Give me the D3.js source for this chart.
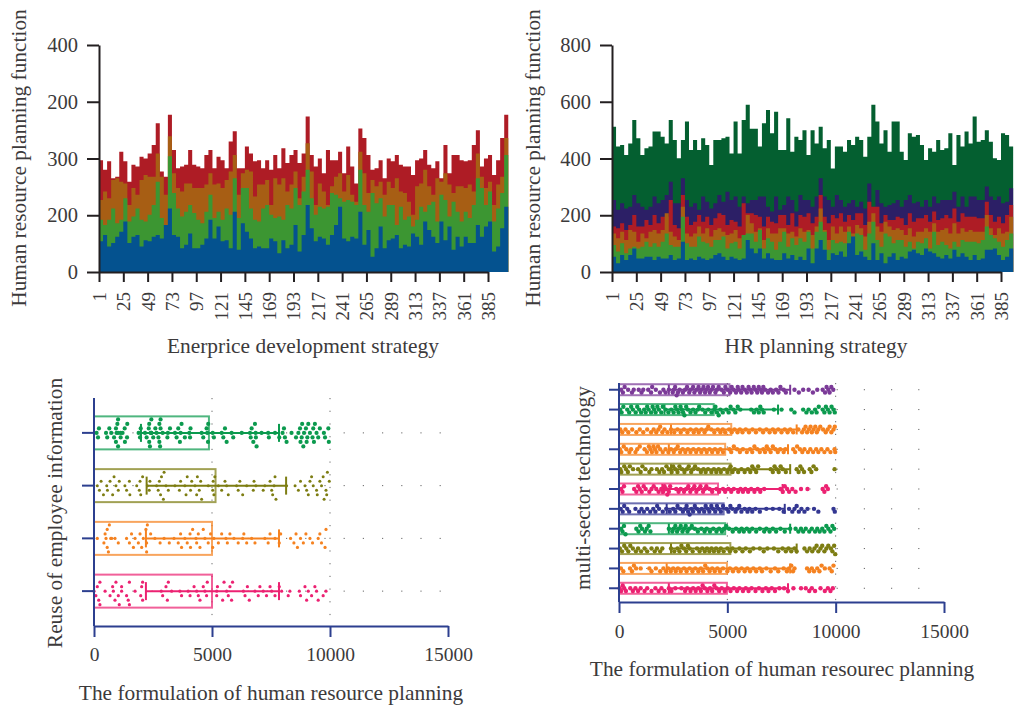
<!DOCTYPE html>
<html>
<head>
<meta charset="utf-8">
<script src="https://cdn.jsdelivr.net/npm/d3@7"></script>
<style>
    html, body { margin: 0; padding: 0; background: #fff; }
    text { font-family: "Liberation Serif", serif; fill: #3c3a3b; }
</style>
</head>
<body>
<div id="my_dataviz"></div>
<script>
// Top row: stacked levels, one value per 4 indices
const blueTopA = [54,65,45,51,62,71,89,51,62,65,45,56,54,62,65,59,83,112,65,62,42,48,68,42,42,48,59,92,59,80,54,56,42,106,
    39,86,71,59,42,45,42,42,59,54,33,56,42,48,83,36,65,118,77,54,62,59,48,65,83,115,59,54,62,59,106,48,74,27,42,
    80,42,56,59,65,42,48,45,68,62,48,89,74,62,51,89,56,80,39,62,45,62,51,51,83,62,80,89,36,45,77,115,77];
const greenTopA = [92,83,92,112,86,92,130,89,98,112,92,89,101,118,159,95,83,204,139,112,98,106,118,104,92,86,106,136,95,106,92,112,101,165,
    95,148,148,112,92,89,112,118,101,95,98,92,118,112,148,118,142,180,130,101,115,112,115,139,136,130,124,127,124,118,180,118,106,139,121,
    130,98,118,118,83,115,92,98,80,92,115,106,118,124,89,136,127,98,124,106,89,106,95,118,165,148,118,142,89,112,139,206,174];
const orangeTopA = [127,142,130,162,165,159,156,118,148,136,162,171,168,168,209,168,136,239,174,148,142,156,156,148,148,148,154,174,154,156,148,162,177,206,
    136,174,180,177,133,154,154,162,118,165,154,165,142,154,177,130,168,227,177,118,156,142,118,151,168,174,142,171,136,124,212,174,139,162,151,
    159,136,159,148,165,142,139,124,101,151,156,180,151,136,165,159,174,154,139,151,151,148,154,142,209,168,148,159,118,154,168,236,195];
const redTopA = [197,180,195,165,168,212,195,159,189,186,203,200,209,224,262,177,168,277,215,183,186,189,215,189,186,183,206,215,183,203,197,183,230,248,
    183,183,221,209,195,197,183,197,180,206,183,218,192,206,215,192,209,274,206,186,200,174,215,197,197,212,174,221,186,156,253,236,206,180,183,
    197,165,200,195,206,189,186,186,171,197,200,215,189,183,195,165,224,174,206,206,197,195,197,224,250,186,200,206,171,197,236,277,250];

const blueTopB = [54,31,60,42,60,83,48,48,54,54,42,54,48,48,60,42,48,107,42,48,42,54,48,42,48,60,66,54,42,54,48,42,48,113,
    83,66,83,48,66,48,42,42,66,48,60,42,54,42,83,31,83,113,78,42,66,60,72,54,101,125,60,72,54,42,101,42,66,31,54,
    66,42,54,48,72,78,66,60,83,72,66,54,48,60,48,78,54,66,54,42,60,42,48,78,78,83,60,42,54,83,78];
const greenTopB = [95,72,101,66,83,89,83,89,107,89,101,89,107,136,95,89,89,195,101,89,89,125,107,101,89,113,113,125,83,101,107,83,130,136,
    136,107,148,83,119,107,78,107,142,89,119,95,119,107,142,83,142,177,142,78,113,101,107,101,142,113,136,130,78,136,177,113,89,136,125,
    101,113,113,89,107,83,107,101,119,83,142,95,107,95,83,107,89,113,107,107,107,101,113,160,130,119,107,89,113,136,113];
const brownTopB = [136,119,142,113,148,142,107,136,119,142,148,136,148,207,142,125,113,230,136,125,136,160,136,154,125,148,154,142,130,136,148,119,130,201,
    172,142,154,113,154,136,136,154,154,136,142,125,154,142,148,130,160,224,148,113,160,136,160,142,160,136,166,154,125,177,207,160,142,177,160,
    148,154,148,130,154,125,142,142,154,142,172,142,148,154,136,172,136,154,142,148,142,142,142,201,154,130,154,136,142,195,154];
const redTopB = [160,154,172,148,166,201,160,160,183,166,201,172,195,195,254,166,154,271,195,166,177,201,177,195,166,189,207,201,166,183,177,160,242,207,
    207,201,195,160,195,177,172,201,201,166,207,160,201,195,207,172,195,271,195,172,201,189,207,177,201,183,207,207,166,248,230,230,172,201,183,
    183,195,189,166,207,177,189,189,201,177,213,183,189,201,189,224,177,207,195,195,195,189,189,248,201,177,195,172,201,236,189];
const navyTopB = [254,219,242,224,230,271,242,230,219,230,266,242,254,271,318,242,242,330,254,230,242,219,266,248,224,242,271,248,283,254,266,230,266,242,
    254,254,266,266,230,213,266,219,236,266,254,213,271,254,254,230,266,330,266,254,230,271,254,230,242,254,230,248,224,312,230,289,242,230,236,
    242,254,230,254,271,242,248,230,254,230,266,242,254,254,254,283,230,266,230,266,266,254,254,301,266,254,266,242,248,295,254];
const darkTopB = [512,442,448,412,453,536,471,412,436,442,495,495,477,453,536,465,401,465,530,430,465,430,471,448,377,465,465,471,477,418,530,418,536,589,
    505,505,442,524,571,489,565,430,430,542,424,477,465,500,412,500,453,512,436,465,365,442,442,424,465,448,477,465,406,477,589,530,453,500,424,
    530,530,424,395,489,477,483,448,395,436,424,465,430,436,489,377,483,442,495,453,548,459,465,500,459,401,395,489,483,442,442];

const xTickLabels = ["1","25","49","73","97","121","145","169","193","217","241","265","289","313","337","361","385"];
const yTickLabelsA = ["0","200","300","200","400"];
const yTickLabelsB = ["0","200","400","600","800"];

// Bottom left chart, groups from top to bottom
const reuseMeans = [4870, 5150, 5000, 5000];
const reuseLow = [1990, 2230, 2200, 2200];
const reuseHigh = [7840, 8140, 7840, 7840];
const reuseGreen = [110,170,210,510,560,650,730,850,930,930,960,990,1020,1020,1020,1130,1130,1210,1300,1310,1400,1410,1890,1950,1980,2160,2230,2320,2340,2340,2370,2400,2430,2430,2430,2510,2600,2650,2730,2770,2770,2800,2820,2820,2910,3110,3130,3220,3430,3500,3570,3640,3670,3710,3850,4040,4070,4090,4560,4630,4770,4800,4830,4840,5030,5080,5410,5480,5550,5620,5830,5900,6260,6610,6640,6680,6750,6820,6850,6860,6890,7100,7380,7410,7670,7850,7990,8050,8090,8160,8370,8560,8660,8730,8750,8800,8820,8870,8900,8980,9010,9040,9080,9150,9260,9290,9320,9360,9430,9500,9570,9740,9790,9930,9950];
const reuseOlive = [140,230,300,400,540,570,680,790,850,930,1030,1070,1310,1380,1500,1520,1810,1920,1950,1980,2060,2260,2340,2370,2650,2720,2770,2820,2860,2940,2970,3050,3150,3430,3620,3670,3850,3900,3950,4090,4140,4280,4350,4380,4460,4520,4560,4840,5030,5050,5080,5120,5270,5410,5550,5620,5690,6040,6110,6180,6300,6470,6750,6780,6860,7170,7240,7460,7530,7570,7630,7670,7710,8160,8520,8660,8750,8940,9010,9080,9150,9220,9290,9430,9460,9570,9640,9710,9750,9830,9860,9890,9970];
const reuseOrange = [140,420,470,510,560,560,610,650,710,750,890,1030,1380,1500,1590,1670,1740,1880,1950,2020,2090,2200,2230,2230,2260,2400,2580,2800,2970,3190,3390,3570,3670,3710,3850,3950,4070,4090,4180,4320,4350,4420,4490,4630,4700,4840,4940,5030,5080,5270,5410,5590,5650,5760,5930,6110,6300,6350,6470,6680,6820,7240,7380,7460,7670,7850,7910,8330,8470,8560,8620,8750,8870,8980,9150,9260,9500,9570,9640,9790,9830];
const reusePink = [0,80,140,200,250,250,470,680,790,820,890,930,1030,1070,1170,1170,1380,1450,1500,1500,1740,1980,2020,2060,2060,2850,2910,3050,3110,3150,3290,3640,3710,3990,4070,4240,4350,4420,4490,4630,4700,4770,4800,5200,5200,5230,5450,5510,5620,5690,5760,5830,5870,6330,6400,6500,6580,6820,6960,7030,7170,7310,7460,7530,7670,7850,7950,8230,8300,8700,8750,8940,9010,9080,9220,9360,9430,9500,9710,9830];

// Bottom right chart, groups from top to bottom
const sectorMeans = [5100, 4370, 5180, 4900, 5150, 4570, 4830, 4900, 5140, 4980, 4980];
const sectorLow = [2300, 2100, 2400, 2300, 2400, 2000, 2200, 2300, 2400, 2200, 2300];
const sectorHigh = [7900, 7340, 8200, 7800, 7900, 7550, 7650, 7900, 8200, 7900, 7800];
const sector1 = [100,180,260,420,600,680,910,1040,1120,1350,1480,1530,1700,1890,2050,2150,2300,2480,2530,2590,2660,2720,2800,2950,3050,3140,3240,3300,3420,3480,3590,3670,3740,3810,3900,3970,4040,4110,4190,4260,4340,4450,4520,4600,4730,4840,4910,5010,5130,5200,5290,5400,5480,5530,5640,5700,5810,5900,5980,6060,6120,6220,6300,6380,6450,6530,6600,6660,6740,6880,7000,7100,7250,7360,7450,7600,7700,8100,8300,8500,8750,8950,9150,9400,9510,9580,9660,9720,9800,9890];
const sector2 = [50,120,200,380,470,560,640,770,840,930,1020,1160,1230,1300,1370,1480,1550,1620,1690,1770,1840,1950,2020,2150,2280,2410,2520,2600,2680,2750,2840,2900,2960,3020,3100,3180,3300,3420,3530,3640,3700,3850,3980,4120,4270,4400,4450,4520,4600,4680,4790,4950,5060,5150,5280,5370,5480,5600,6100,6230,6350,6450,6520,6600,6680,7150,7500,7950,8100,8500,8650,8750,8900,9050,9120,9220,9400,9480,9550,9640,9720,9810,9900,9960];
const sector3 = [60,150,300,430,610,800,960,1120,1300,1480,1600,1720,1820,1900,2000,2100,2240,2400,2550,2700,2850,3000,3160,3300,3450,3560,3680,3810,3950,4040,4120,4260,4400,4560,4680,4790,4900,5080,5200,5330,5470,5580,5700,5850,6000,6160,6320,6500,6650,6800,6950,7100,7200,7350,7500,7650,7780,7900,8040,8280,8450,8530,8610,8680,8760,8840,8900,8980,9060,9130,9200,9290,9420,9540,9630,9720,9800,9900,9960];
const sector4 = [40,110,220,340,480,560,760,840,960,1180,1290,1380,1450,1520,1590,1660,1730,1800,1900,2020,2150,2280,2400,2530,2620,2710,2820,2940,3060,3180,3300,3430,3560,3680,3800,3930,4050,4180,4300,4430,4560,4680,4800,5100,5180,5300,5450,5580,5720,5900,6050,6150,6250,6380,6500,6660,6740,6820,6900,7000,7100,7220,7330,7440,7600,7680,8040,8130,8220,8350,8460,8560,8720,8830,8960,9100,9200,9340,9480,9620,9760,9950,9980];
const sector5 = [60,110,240,330,410,500,650,880,1000,1080,1220,1400,1500,1750,1860,1990,2080,2190,2300,2430,2500,2600,2700,2790,2910,3020,3130,3220,3330,3420,3510,3650,3780,3900,4000,4110,4260,4380,4490,4600,4700,4850,5000,5080,5150,5240,5340,5500,5650,5800,5950,6060,6150,6240,6330,6420,7000,7100,7180,7280,7370,7460,7560,7700,8200,8290,8370,8450,8540,8800,8880,8980,9100,9950];
const sector6 = [100,160,230,700,800,880,960,1050,1140,1230,1400,1500,1600,1720,1830,1950,2040,2100,2170,2230,2300,2360,2640,2750,2850,3000,3100,3200,3290,3400,3480,3570,3680,3760,3880,3960,4030,4180,4300,4500,4620,4800,4900,5050,5180,5300,5500,5610,5720,5830,5960,6100,6250,6400,6520,6700,7450,7560,7650,7760,7850,8000,8150,8400,8700,9400,9480,9560,9640];
const sector7 = [80,170,240,380,470,760,930,1040,1150,1300,1440,1580,1680,1760,1850,2020,2180,2340,2500,2600,2700,2830,2950,3060,3120,3190,3260,3340,3420,3500,3600,3700,3820,3930,4000,4100,4170,4260,4340,4440,4520,4600,4700,4800,4960,5050,5140,5240,5380,5450,5550,5650,5800,5930,6020,6150,6300,6500,6800,7100,7400,7600,7850,8000,8100,8200,8300,8420,8560,8700,9000,9200,9900,9960];
const sector8 = [100,160,230,300,800,900,980,1060,1200,1280,1370,1450,2300,2460,2520,2600,2680,2760,2850,2930,3000,3080,3160,3240,3360,3500,3640,3800,3950,4050,4200,4350,4500,4620,4750,4850,4950,5080,5250,5400,5550,5660,5760,5900,6020,6150,6330,6500,6700,6800,6950,7100,7250,7450,7650,7900,8150,8280,8400,8500,8620,8780,8900,9050,9150,9260,9380,9480,9570,9660,9760,9850,9930];
const sector9 = [40,140,240,340,430,520,640,780,880,1020,1180,1300,1500,1650,1750,1900,2000,2400,2550,2700,2790,2880,3000,3100,3180,3260,3400,3600,3720,3840,3960,4060,4170,4270,4380,4480,4600,4700,4830,5000,5120,5240,5380,5560,5700,5850,6040,6200,6500,6680,6850,7150,7350,7550,7700,7820,7950,8100,8200,8560,8680,8800,8920,9020,9120,9200,9300,9380,9480,9570,9660,9780,9850,9930,9980];
const sector10 = [90,200,510,600,690,790,1000,1400,1500,1700,1900,2050,2170,2270,2390,2500,2620,2720,2850,3000,3120,3260,3390,3520,3660,3780,3880,3980,4080,4180,4300,4420,4540,4660,4800,5000,5120,5260,5400,5520,5660,5800,5920,6050,6200,6330,6500,6600,6800,7000,7200,7350,7600,7750,7850,7950,8030,8100,8680,8780,8900,9000,9150,9250,9350,9500,9720,9820,9900];
const sector11 = [30,100,170,240,320,520,640,760,880,1000,1180,1300,1500,1680,1830,1960,2100,2300,2420,2600,2880,3050,3150,3300,3420,3540,3660,3780,3860,3960,4080,4200,4300,4400,4500,4620,4740,4880,5020,5150,5300,5450,5560,5720,5850,5980,6120,6300,6460,6620,6780,6900,7050,7200,7400,7620,7800,8050,8400,8620,8780,8900,9050,9300,9500,9640,9760,9870];

const reuseSeries = [reuseGreen, reuseOlive, reuseOrange, reusePink];
const reuseColors = ["#0b9a4e", "#7d7d12", "#f58220", "#ec2272"];
const sectorSeries = [sector1, sector2, sector3, sector4, sector5, sector6, sector7, sector8, sector9, sector10, sector11];
const sectorColors = ["#7b3a98", "#0b9a4e", "#f58220", "#f58220", "#7d7d12", "#ec2272", "#343792", "#0b9a4e", "#7d7d12", "#f58220", "#ec2272"];

const svg = d3.select("#my_dataviz").append("svg")
    .attr("width", 1014).attr("height", 707)
    .style("display", "block");

// Axis text helper
function axisLabel(x, y, label, rotate) {
    svg.append("text")
        .attr("transform", "translate(" + x + "," + y + ")" + (rotate ? " rotate(-90)" : ""))
        .attr("text-anchor", "middle")
        .style("font-size", "21.4px")
        .text(label);
}

// Top charts: stepped stacked levels, tallest painted first
function stackedChart(opts) {
    var x = d3.scaleLinear().domain([1, 385]).range([opts.left, opts.left + 389]);
    var y = d3.scaleLinear().domain(opts.yDomain).range([272, 45]);
    var index = opts.levels[0].values.map((d, i) => 1 + i * 4);

    opts.levels.slice().reverse().forEach(level => {
        svg.append("path")
            .datum(level.values)
            .attr("fill", level.color)
            .attr("d", d3.area()
                .curve(d3.curveStepAfter)
                .x((d, i) => x(index[i]))
                .y0(y(0))
                .y1(d => y(d)));
    });

    var xAxis = svg.append("g")
        .attr("transform", "translate(0,272)")
        .call(d3.axisBottom(x)
            .tickValues(xTickLabels.map(Number))
            .tickFormat(d => d)
            .tickSize(10).tickSizeOuter(0));
    xAxis.selectAll("text")
        .attr("transform", "rotate(-90)")
        .attr("text-anchor", "end")
        .attr("x", -20).attr("y", 0).attr("dy", "0.34em")
        .style("font-size", "19px");

    var step = opts.yDomain[1] / 4;
    var yAxis = svg.append("g")
        .attr("transform", "translate(" + opts.left + ",0)")
        .call(d3.axisLeft(y)
            .tickValues(d3.range(0, 5).map(d => d * step))
            .tickFormat((d, i) => opts.yLabels[i])
            .tickSize(12).tickSizeOuter(0));
    yAxis.selectAll("text").attr("x", -21).style("font-size", "20.5px");

    svg.selectAll("g .domain, g .tick line")
        .attr("stroke", "#231f20").attr("stroke-width", 2);
}

// Stacks dots with similar x into rows above and below the centre
function swarm(values, x, gap, rowStep, maxRow) {
    var rows = {};
    return values.slice().sort(d3.ascending).map(v => {
        var px = x(v);
        for (var k = 0; k <= maxRow * 2; k++) {
            var row = k % 2 ? (k + 1) / 2 : -k / 2;
            var last = rows[row];
            if (last === undefined || px - last >= gap) {
                rows[row] = px;
                return {px: px, off: row * rowStep};
            }
        }
        return {px: px, off: 0};
    });
}

// Bottom charts: bar with mean, error bar and scatter per group
function scatterBar(opts) {
    var x = d3.scaleLinear().domain([0, 15000]).range([opts.left, opts.left + opts.width]);
    var y = d3.scaleBand().domain(d3.range(opts.series.length)).range(opts.yBand);

    // dotted guide lines
    [5000, 10000].forEach(v => {
        svg.append("line")
            .attr("x1", x(v)).attr("x2", x(v))
            .attr("y1", opts.top).attr("y2", opts.bottom)
            .attr("stroke", "#666").attr("stroke-width", 1)
            .attr("stroke-dasharray", "1.2 " + opts.gridGap);
    });
    opts.series.forEach((values, g) => {
        var cy = y(g) + y.bandwidth() / 2;
        svg.append("line")
            .attr("x1", x(0)).attr("x2", x(15000))
            .attr("y1", cy).attr("y2", cy)
            .attr("stroke", "#666").attr("stroke-width", 1)
            .attr("stroke-dasharray", "1.2 " + opts.gridGapH);
    });

    opts.series.forEach((values, g) => {
        var cy = y(g) + y.bandwidth() / 2;
        var color = opts.colors[g];
        svg.append("rect")
            .attr("x", x(0)).attr("y", cy - opts.barHalf)
            .attr("width", x(opts.means[g]) - x(0)).attr("height", opts.barHalf * 2)
            .attr("fill", "none").attr("stroke", color)
            .attr("stroke-opacity", 0.72).attr("stroke-width", opts.barStroke);

        svg.append("line")
            .attr("x1", x(opts.low[g])).attr("x2", x(opts.high[g]))
            .attr("y1", cy).attr("y2", cy)
            .attr("stroke", color).attr("stroke-width", 2);
        [opts.low[g], opts.high[g]].forEach(v => {
            svg.append("line")
                .attr("x1", x(v)).attr("x2", x(v))
                .attr("y1", cy - opts.capHalf).attr("y2", cy + opts.capHalf)
                .attr("stroke", color).attr("stroke-width", 2);
        });

        svg.append("g").selectAll("circle")
            .data(swarm(values, x, opts.dotGap[g], opts.rowStep, opts.maxRow))
            .join("circle")
            .attr("cx", d => d.px)
            .attr("cy", d => cy + d.off)
            .attr("r", opts.radius[g])
            .attr("fill", color);
    });

    var navy = "#2c3f8f";
    var xAxis = svg.append("g")
        .attr("transform", "translate(0," + opts.bottom + ")")
        .call(d3.axisBottom(x).tickValues([0, 5000, 10000, 15000]).tickFormat(d3.format("d")).tickSize(11).tickSizeOuter(0));
    xAxis.selectAll("text").attr("y", opts.tickTextY).style("font-size", "19.5px");

    var yAxis = svg.append("g")
        .attr("transform", "translate(" + opts.left + ",0)")
        .call(d3.axisLeft(y).tickFormat("").tickSize(opts.yTick).tickSizeOuter(0));
    yAxis.select(".domain").attr("d", "M0," + opts.top + "V" + opts.bottom);

    [xAxis, yAxis].forEach(a => {
        a.selectAll(".domain, .tick line").attr("stroke", navy).attr("stroke-width", 2);
    });
}

stackedChart({
    left: 99, yDomain: [0, 400], yLabels: yTickLabelsA,
    levels: [
        {values: blueTopA, color: "#04528f"},
        {values: greenTopA, color: "#3c9632"},
        {values: orangeTopA, color: "#a75e14"},
        {values: redTopA, color: "#ae1c25"}
    ]
});
stackedChart({
    left: 612, yDomain: [0, 800], yLabels: yTickLabelsB,
    levels: [
        {values: blueTopB, color: "#04528f"},
        {values: greenTopB, color: "#3c9632"},
        {values: brownTopB, color: "#a75e14"},
        {values: redTopB, color: "#ae1c25"},
        {values: navyTopB, color: "#2c1f66"},
        {values: darkTopB, color: "#045f30"}
    ]
});

scatterBar({
    left: 94, width: 354, top: 398, bottom: 626, yBand: [406.5, 617.5],
    series: reuseSeries, colors: reuseColors, means: reuseMeans, low: reuseLow, high: reuseHigh,
    radius: [2.1, 1.5, 1.6, 1.6], barHalf: 16.5, barStroke: 2, capHalf: 9,
    dotGap: [5, 8, 8, 8], rowStep: 4.5, maxRow: 3, gridGap: 11.5, gridGapH: 18, yTick: 12, tickTextY: 21
});
scatterBar({
    left: 619, width: 325, top: 383, bottom: 602, yBand: [379.8, 598.2],
    series: sectorSeries, colors: sectorColors, means: sectorMeans, low: sectorLow, high: sectorHigh,
    radius: d3.range(11).map(() => 2.2), barHalf: 5.5, barStroke: 2, capHalf: 5,
    dotGap: d3.range(11).map(() => 4.5), rowStep: 2.8, maxRow: 2, gridGap: 11.5, gridGapH: 26, yTick: 10, tickTextY: 22
});

axisLabel(26, 158, "Human resource planning function", true);
axisLabel(540, 158, "Human resource planning function", true);
axisLabel(303, 353, "Enerprice development strategy");
axisLabel(816, 353, "HR planning strategy");
axisLabel(62, 513, "Reuse of employee information", true);
axisLabel(590, 488, "multi-sector technology", true);
axisLabel(271, 700, "The formulation of human resource planning");
axisLabel(782, 676, "The formulation of human resourec planning");
</script>
</body>
</html>
